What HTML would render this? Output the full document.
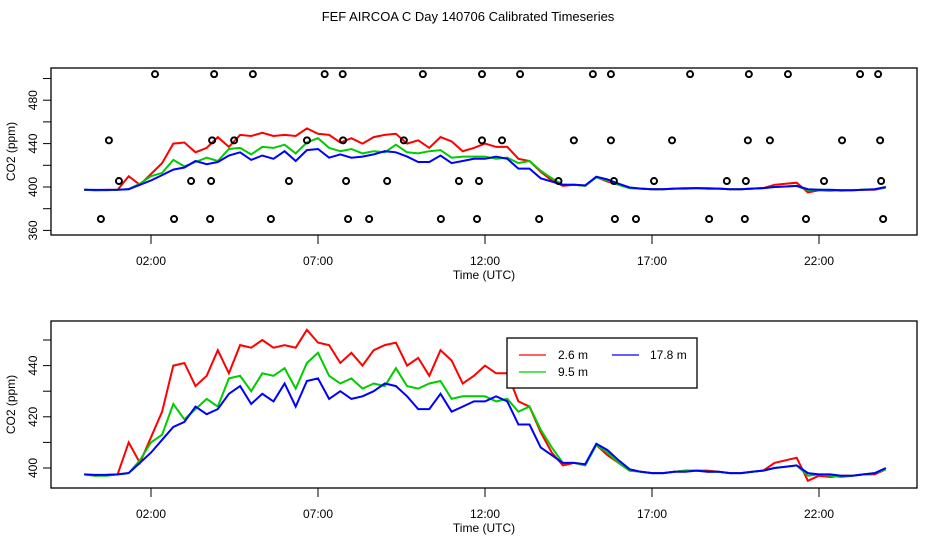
<!DOCTYPE html>
<html><head><meta charset="utf-8">
<style>
body{margin:0;background:#fff;}
svg{display:block;font-family:"Liberation Sans",sans-serif;}
</style></head>
<body>
<svg id="chart" width="936" height="540" viewBox="0 0 936 540" xmlns="http://www.w3.org/2000/svg">
<rect width="936" height="540" fill="#fff"/>
<text x="468" y="21" font-size="13" text-anchor="middle">FEF AIRCOA C  Day 140706  Calibrated Timeseries</text>
<g id="top"></g>
<g id="bot"></g>
</svg>
<script>
// 20-minute samples, hours 0..24
const red2_6 = [397.5,397,397.3,397.5,410,402,412,422,440,441,432,436,446,437,448,447,450,447,448,447,454,449,448,441,445,440,446,448,449,440,443,436,446,442,433,436,440,437,437,426,424,414,406,401,402,401,409,405,402,399,398.5,398,398,398.5,399,399,399,398.5,398,398,398.5,399,402,403,404,395,397,396.5,397,397,397.5,397.5,399.5];
const green9_5 = [397.5,397,397,397.5,398,403,410,413,425,419,423,427,424,435,436,430,437,436,439,431,441,445,436,433,435,431,433,432,439,432,431,433,434,427,428,428,428,426,427,422,424,415,408,402,402,401,409,406,402,399,398.5,398,398,398.5,399,399,398.5,398.5,398,398,398.5,399,400,400.5,401,397,397.5,397,396.5,397,397.5,398,399.5];
const blue17_8 = [397.5,397.3,397.3,397.5,398,402,406,411,416,418,424,421,423,429,432,425,429,426,433,424,434,435,427,430,427,428,430,433,432,428,423,423,429,422,424,426,426,428,426,417,417,408,405,402,402,401.5,409.5,407,403,399.5,398.5,398,398,398.5,398.5,399,398.5,398.5,398,398,398.5,399,400,400.5,401,398,397.5,397.5,397,397,397.5,398,400];
const flagHours = [2.12,3.89,5.05,7.2,7.74,10.14,11.91,13.05,15.23,15.77,18.14,19.9,21.07,23.23,23.77,
  0.74,3.83,4.49,6.67,7.75,9.57,11.91,12.51,14.66,15.77,17.6,19.87,20.53,22.69,23.83,
  1.04,3.2,3.8,6.13,7.84,9.07,11.22,11.82,14.2,15.86,17.06,19.24,19.81,22.15,23.86,
  0.5,2.69,3.77,5.59,7.9,8.53,10.68,11.76,13.62,15.89,16.52,18.71,19.78,21.61,23.92];
const flagPPM = [504,504,504,504,504,504,504,504,504,504,504,504,504,504,504,
  443,443,443,443,443,443,443,443,443,443,443,443,443,443,443,
  405.5,405.5,405.5,405.5,405.5,405.5,405.5,405.5,405.5,405.5,405.5,405.5,405.5,405.5,405.5,
  370.5,370.5,370.5,370.5,370.5,370.5,370.5,370.5,370.5,370.5,370.5,370.5,370.5,370.5,370.5];
const xTickHours = [2,7,12,17,22];
const xTickLabels = ["02:00","07:00","12:00","17:00","22:00"];
const topTicks = [360,380,400,420,440,460,480,500];
const topLabels = [360,400,440,480];
const botTicks = [400,410,420,430,440,450];
const botLabels = [400,420,440];

const NS="http://www.w3.org/2000/svg";
const L=51,R=917;
const xs=h=>84.2+h*33.4;
function mk(p,tag,at){const e=document.createElementNS(NS,tag);for(const k in at)e.setAttribute(k,at[k]);p.appendChild(e);return e;}

function panel(g,top,bot,ys,ticks,labels,withFlags){
  const box=mk(g,'rect',{x:L,y:top,width:R-L,height:bot-top,fill:'none',stroke:'#000','stroke-width':1.3});
  
  
  xTickHours.forEach((h,i)=>{
    const t=mk(g,'line',{x1:xs(h),x2:xs(h),y1:bot,y2:bot+9,stroke:'#000'});
    
    
    const tx=mk(g,'text',{x:xs(h),y:bot+30,'font-size':12,'text-anchor':'middle'});
    tx.textContent=xTickLabels[i];
    
    
  });
  const xt=mk(g,'text',{x:484,y:bot+44,'font-size':12,'text-anchor':'middle'});
  xt.textContent='Time (UTC)';
  
  
  ticks.forEach(v=>{
    const t=mk(g,'line',{x1:L-8,x2:L,y1:ys(v),y2:ys(v),stroke:'#000'});
    
    
  });
  labels.forEach(v=>{
    const tx=mk(g,'text',{x:0,y:0,'font-size':12,'text-anchor':'middle',transform:`translate(37,${ys(v)}) rotate(-90)`});
    tx.textContent=v;
    
    
  });
  const yt=mk(g,'text',{x:0,y:0,'font-size':12,'text-anchor':'middle',transform:`translate(15,${(top+bot)/2}) rotate(-90)`});
  yt.textContent='CO2 (ppm)';
  
  
  [[red2_6,'#f00','series-2-6m'],[green9_5,'#0c0','series-9-5m'],[blue17_8,'#00f','series-17-8m']].forEach(([d,c,n])=>{
    const pts=d.map((v,i)=>xs(i/3).toFixed(1)+','+ys(v).toFixed(1)).join(' ');
    const pl=mk(g,'polyline',{points:pts,fill:'none',stroke:c,'stroke-width':2});
    
    
  });
  if(withFlags){
    flagHours.forEach((h,i)=>{
      const c=mk(g,'circle',{cx:xs(h),cy:ys(flagPPM[i]),r:3,fill:'none',stroke:'#000','stroke-width':2});
      
      
    });
  }
}
const topY=v=>187-(v-400)*1.085;
const botY=v=>468-(v-400)*2.56;
panel(document.getElementById('top'),68,235,topY,topTicks,topLabels,true);
panel(document.getElementById('bot'),321,488,botY,botTicks,botLabels,false);

// legend
const bg=document.getElementById('bot');
const lg=mk(bg,'g',{});


mk(lg,'rect',{x:507,y:338,width:190,height:50,fill:'#fff',stroke:'#000','stroke-width':1.3});
[[519,355,'#f00','2.6 m',558,'legend-entry-2-6m'],[519,372,'#0c0','9.5 m',558,'legend-entry-9-5m'],[612,355,'#00f','17.8 m',650,'legend-entry-17-8m']].forEach(([x,y,c,t,tx,n])=>{
  const e=mk(lg,'g',{});
  
  
  mk(e,'line',{x1:x,x2:x+27,y1:y,y2:y,stroke:c,'stroke-width':1.3});
  const te=mk(e,'text',{x:tx,y:y+4,'font-size':12});
  te.textContent=t;
});
</script>
</body></html>
